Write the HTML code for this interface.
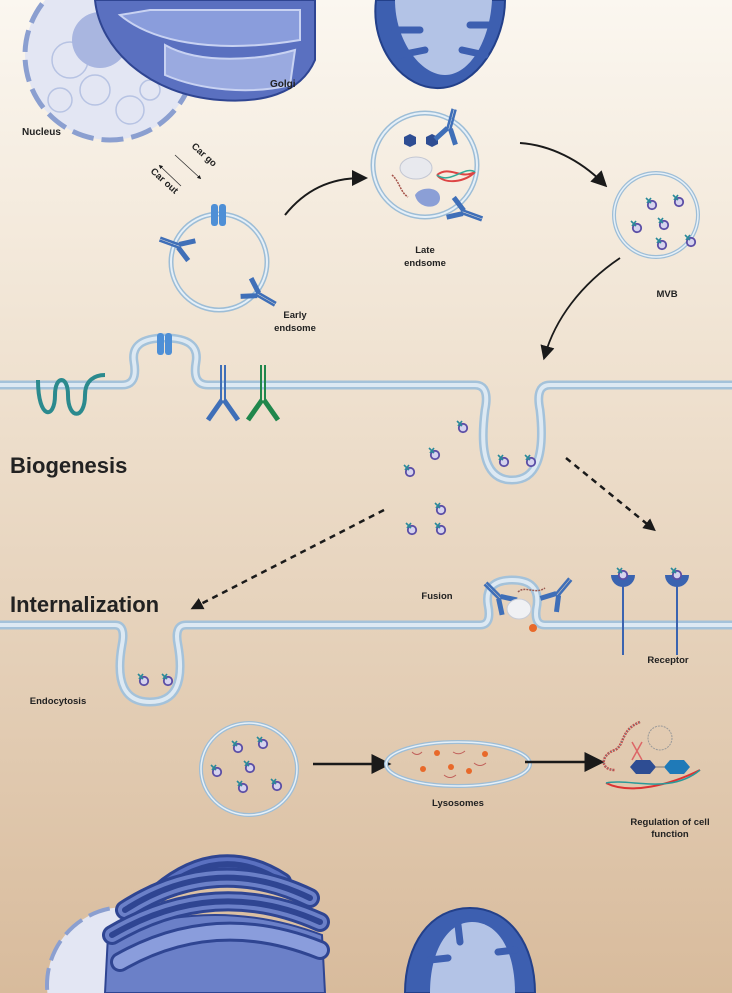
<!DOCTYPE html>
<html><head><meta charset="utf-8"><style>
html,body{margin:0;padding:0;width:732px;height:993px;overflow:hidden}
svg{display:block}
text{font-family:"Liberation Sans",sans-serif;font-weight:bold;fill:#222}
</style></head><body>
<svg width="732" height="993" viewBox="0 0 732 993" xmlns="http://www.w3.org/2000/svg">
<defs>
<linearGradient id="bg" x1="0" y1="0" x2="0" y2="1">
<stop offset="0" stop-color="#fbf7f0"/><stop offset="0.35" stop-color="#f0e3d2"/><stop offset="1" stop-color="#d8bb9c"/>
</linearGradient>
<g id="v"><circle cx="0" cy="0" r="4.2" fill="#d6d3ee" stroke="#5b4ea6" stroke-width="1.8"/><path d="M-6,-7 L-1,-2 M-5,-2 L-1,-7" stroke="#2a8a9a" stroke-width="1.6"/></g>
<marker id="ah" markerWidth="8" markerHeight="8" refX="5" refY="4" orient="auto" markerUnits="strokeWidth"><path d="M0,0 L8,4 L0,8 z" fill="#1a1a1a"/></marker>
<marker id="ah2" markerWidth="5" markerHeight="5" refX="3" refY="2.5" orient="auto" markerUnits="strokeWidth"><path d="M0,0 L5,2.5 L0,5 z" fill="#1a1a1a"/></marker>
<g id="ab"><path d="M0,0 L0,-22 M3,0 L3,-22" stroke="#3f6fb8" stroke-width="2.5"/><path d="M0,-2 L-9,12 M3,-2 L12,12" stroke="#3f6fb8" stroke-width="5"/></g>
</defs>
<rect width="732" height="993" fill="url(#bg)"/>

<!-- nucleus top -->
<circle cx="110" cy="55" r="85" fill="#e3e6f3" stroke="#8b9fd0" stroke-width="5" stroke-dasharray="22 8"/>
<g fill="none" stroke="#b7c3e3" stroke-width="1.5">
<circle cx="70" cy="60" r="18"/><circle cx="95" cy="90" r="15"/><circle cx="130" cy="110" r="14"/><circle cx="60" cy="100" r="12"/><circle cx="150" cy="90" r="10"/><circle cx="85" cy="40" r="12"/>
</g>
<circle cx="100" cy="40" r="28" fill="#a9b6e0"/>
<!-- golgi top -->
<path d="M95,0 C100,50 150,95 220,100 C260,103 300,95 315,60 L315,0 Z" fill="#5a70c0" stroke="#2f4592" stroke-width="2"/>
<path d="M120,15 C150,40 210,55 300,40 L300,10 L150,10 Z" fill="#8a9ddc" stroke="#c8d2f2" stroke-width="2"/>
<path d="M165,45 C200,65 260,60 295,50 L290,85 C250,95 200,90 165,75 Z" fill="#9aaae0" stroke="#c8d2f2" stroke-width="2"/>
<!-- mitochondrion top -->
<path d="M376,0 C370,50 405,90 440,88 C478,86 505,40 505,0 Z" fill="#3d5fb0" stroke="#23408a" stroke-width="2"/>
<path d="M395,0 C395,40 420,75 445,75 C470,75 490,40 492,0 Z" fill="#b3c3e6"/>
<g stroke="#3d5fb0" stroke-width="7" stroke-linecap="round"><path d="M395,30 L420,30"/><path d="M495,25 L470,25"/><path d="M400,55 L425,50"/><path d="M485,55 L462,50"/></g>

<text x="270" y="87" font-size="10">Golgi</text>
<text x="22" y="135" font-size="10">Nucleus</text>
<g transform="translate(191,147) rotate(42)"><text font-size="9.5">Car go</text></g>
<g transform="translate(150,172) rotate(42)"><text font-size="9.5">Car out</text></g>
<path d="M175,155 L200,178" stroke="#333" stroke-width="0.8" marker-end="url(#ah2)"/>
<path d="M181,186 L160,166" stroke="#333" stroke-width="0.8" marker-end="url(#ah2)"/>

<!-- early endosome -->
<circle cx="219" cy="262" r="48" fill="none" stroke="#9dbdd6" stroke-width="5"/>
<circle cx="219" cy="262" r="48" fill="none" stroke="#e6f0f8" stroke-width="2"/>
<rect x="211" y="204" width="7" height="22" rx="3" fill="#4e8fd6"/><rect x="219" y="204" width="7" height="22" rx="3" fill="#4e8fd6"/>
<use href="#ab" transform="translate(180,248) rotate(-70)"/>
<use href="#ab" transform="translate(257,292) rotate(120)"/>
<text x="295" y="318" font-size="9.5" text-anchor="middle">Early</text>
<text x="295" y="331" font-size="9.5" text-anchor="middle">endsome</text>
<path d="M285,215 C305,190 330,178 362,178" fill="none" stroke="#1a1a1a" stroke-width="2" marker-end="url(#ah)"/>

<!-- late endosome -->
<circle cx="425" cy="165" r="52" fill="none" stroke="#9dbdd6" stroke-width="5"/>
<circle cx="425" cy="165" r="52" fill="none" stroke="#e6f0f8" stroke-width="2"/>
<polygon points="410,147 404,144 404,137 410,134 416,137 416,144" fill="#2e4d93"/>
<polygon points="432,147 426,144 426,137 432,134 438,137 438,144" fill="#2e4d93"/>
<ellipse cx="416" cy="168" rx="16" ry="11" fill="#e8e9ee" stroke="#c3c7d3"/>
<path d="M437,175 C450,165 460,180 475,172 C465,182 445,185 437,175" fill="none" stroke="#d44" stroke-width="2"/>
<path d="M437,175 C450,185 465,165 475,172" fill="none" stroke="#3a9" stroke-width="1.5"/>
<path d="M392,175 C400,182 400,192 408,197" fill="none" stroke="#a5534a" stroke-width="1.5" stroke-dasharray="2 1"/>
<path d="M415,195 C420,186 440,186 440,198 C440,210 418,210 415,195Z" fill="#8b9fd6"/>
<use href="#ab" transform="translate(447,130) rotate(15)"/>
<use href="#ab" transform="translate(462,210) rotate(110)"/>
<text x="425" y="253" font-size="9.5" text-anchor="middle">Late</text>
<text x="425" y="266" font-size="9.5" text-anchor="middle">endsome</text>
<path d="M520,143 C550,145 580,160 603,183" fill="none" stroke="#1a1a1a" stroke-width="2" marker-end="url(#ah)"/>

<!-- MVB -->
<circle cx="656" cy="215" r="42" fill="none" stroke="#9dbdd6" stroke-width="4"/>
<circle cx="656" cy="215" r="42" fill="none" stroke="#e6f0f8" stroke-width="1.5"/>
<use href="#v" transform="translate(652,205)"/><use href="#v" transform="translate(679,202)"/><use href="#v" transform="translate(637,228)"/><use href="#v" transform="translate(664,225)"/><use href="#v" transform="translate(662,245)"/><use href="#v" transform="translate(691,242)"/>
<text x="667" y="297" font-size="9.5" text-anchor="middle">MVB</text>
<path d="M620,258 C580,285 555,320 545,355" fill="none" stroke="#1a1a1a" stroke-width="1.8" marker-end="url(#ah)"/>

<!-- top membrane -->
<g fill="none" stroke-linejoin="round">
<path d="M0,385 H122 Q138,385 134,362 Q130,338 165,338 Q200,338 196,362 Q192,385 208,385 H475 Q490,385 485,410 Q476,480 512,480 Q548,480 540,410 Q535,385 550,385 H732" stroke="#a4c2da" stroke-width="9"/>
<path d="M0,385 H122 Q138,385 134,362 Q130,338 165,338 Q200,338 196,362 Q192,385 208,385 H475 Q490,385 485,410 Q476,480 512,480 Q548,480 540,410 Q535,385 550,385 H732" stroke="#dde9f3" stroke-width="4"/>
</g>
<rect x="157" y="333" width="7" height="22" rx="3" fill="#4e8fd6"/><rect x="165" y="333" width="7" height="22" rx="3" fill="#4e8fd6"/>
<path d="M38,380 C38,420 55,420 55,395 C55,375 68,375 68,395 C68,420 85,420 85,395 C85,380 95,375 105,375" fill="none" stroke="#2b8a8e" stroke-width="4"/>
<path d="M221,365 V400 M225,365 V400" stroke="#3f6fb8" stroke-width="2"/>
<path d="M222,400 L208,420 M224,400 L238,420" stroke="#3f6fb8" stroke-width="5"/>
<path d="M261,365 V400 M265,365 V400" stroke="#20874c" stroke-width="2"/>
<path d="M262,400 L248,420 M264,400 L278,420" stroke="#20874c" stroke-width="5"/>
<text x="10" y="473" font-size="22">Biogenesis</text>
<use href="#v" transform="translate(504,462)"/><use href="#v" transform="translate(531,462)"/>
<use href="#v" transform="translate(463,428)"/><use href="#v" transform="translate(435,455)"/><use href="#v" transform="translate(410,472)"/><use href="#v" transform="translate(441,510)"/><use href="#v" transform="translate(412,530)"/>
<use href="#v" transform="translate(441,530)"/>
<path d="M566,458 L652,528" stroke="#1a1a1a" stroke-width="2.5" stroke-dasharray="6 5" marker-end="url(#ah2)"/>
<path d="M384,510 L195,607" stroke="#1a1a1a" stroke-width="2.5" stroke-dasharray="6 5" marker-end="url(#ah2)"/>

<!-- bottom membrane -->
<g fill="none" stroke-linejoin="round">
<path d="M0,625 H115 Q126,625 122,645 Q112,702 150,702 Q188,702 178,645 Q174,625 186,625 H480 Q492,625 488,605 Q484,580 512,580 Q540,580 537,605 Q533,625 545,625 H732" stroke="#a4c2da" stroke-width="9"/>
<path d="M0,625 H115 Q126,625 122,645 Q112,702 150,702 Q188,702 178,645 Q174,625 186,625 H480 Q492,625 488,605 Q484,580 512,580 Q540,580 537,605 Q533,625 545,625 H732" stroke="#dde9f3" stroke-width="4"/>
</g>
<text x="10" y="612" font-size="22">Internalization</text>
<use href="#v" transform="translate(144,681)"/><use href="#v" transform="translate(168,681)"/>
<use href="#ab" transform="translate(500,600) rotate(-45)"/>
<use href="#ab" transform="translate(555,595) rotate(40)"/>
<ellipse cx="519" cy="609" rx="12" ry="10" fill="#f0f1f4" stroke="#c8ccd6"/>
<circle cx="533" cy="628" r="4" fill="#e8692a"/>
<path d="M518,592 C525,585 535,595 545,588" fill="none" stroke="#9a5a50" stroke-width="1.5" stroke-dasharray="2 1"/>
<text x="437" y="599" font-size="9.5" text-anchor="middle">Fusion</text>
<g fill="#3a63b0">
<path d="M611,575 H635 A12,12 0 0 1 611,575Z"/><rect x="622" y="585" width="2" height="70"/>
<path d="M665,575 H689 A12,12 0 0 1 665,575Z"/><rect x="676" y="585" width="2" height="70"/>
</g>
<use href="#v" transform="translate(623,575)"/><use href="#v" transform="translate(677,575)"/>
<text x="668" y="663" font-size="9.5" text-anchor="middle">Receptor</text>
<text x="58" y="704" font-size="9.5" text-anchor="middle">Endocytosis</text>

<!-- lower row -->
<ellipse cx="249" cy="769" rx="48" ry="46" fill="none" stroke="#9dbdd6" stroke-width="4"/>
<ellipse cx="249" cy="769" rx="48" ry="46" fill="none" stroke="#e6f0f8" stroke-width="1.5"/>
<use href="#v" transform="translate(238,748)"/><use href="#v" transform="translate(263,744)"/><use href="#v" transform="translate(217,772)"/><use href="#v" transform="translate(250,768)"/><use href="#v" transform="translate(243,788)"/><use href="#v" transform="translate(277,786)"/>
<path d="M313,764 H384" stroke="#1a1a1a" stroke-width="2.5" marker-end="url(#ah)"/>
<ellipse cx="458" cy="764" rx="72" ry="22" fill="none" stroke="#9dbdd6" stroke-width="4"/>
<ellipse cx="458" cy="764" rx="72" ry="22" fill="none" stroke="#e6f0f8" stroke-width="1.5"/>
<g fill="#e8692a"><circle cx="437" cy="753" r="3"/><circle cx="485" cy="754" r="3"/><circle cx="423" cy="769" r="3"/><circle cx="451" cy="767" r="3"/><circle cx="469" cy="771" r="3"/></g>
<g fill="none" stroke="#c0605a" stroke-width="1"><path d="M412,752 q5,5 10,0"/><path d="M453,752 q6,4 12,-1"/><path d="M474,763 q6,5 12,0"/><path d="M444,775 q6,5 12,0"/></g>
<text x="458" y="806" font-size="9.5" text-anchor="middle">Lysosomes</text>
<path d="M525,762 H597" stroke="#1a1a1a" stroke-width="2.5" marker-end="url(#ah)"/>
<path d="M640,722 C620,730 625,745 615,750 C600,755 600,770 615,770" fill="none" stroke="#c44" stroke-width="2.5" stroke-dasharray="2 1"/>
<path d="M640,722 C620,730 625,745 615,750 C600,755 600,770 615,770" fill="none" stroke="#4aa" stroke-width="1" stroke-dasharray="1 2"/>
<circle cx="660" cy="738" r="12" fill="none" stroke="#999" stroke-width="1" stroke-dasharray="2 1"/>
<path d="M632,742 L642,760 M642,742 L632,760" stroke="#d66" stroke-width="1.5"/>
<polygon points="630,767 636,760 650,760 656,767 650,774 636,774" fill="#2e4d93"/>
<polygon points="664,767 670,760 684,760 690,767 684,774 670,774" fill="#1f7ab8"/>
<path d="M656,767 H664" stroke="#777"/>
<path d="M606,783 C630,795 670,785 700,770" fill="none" stroke="#d33" stroke-width="2"/>
<path d="M606,783 C630,778 670,795 700,770" fill="none" stroke="#2a9a9a" stroke-width="1.5"/>
<text x="670" y="825" font-size="9.5" text-anchor="middle">Regulation of cell</text>
<text x="670" y="837" font-size="9.5" text-anchor="middle">function</text>

<!-- bottom nucleus/golgi -->
<circle cx="125" cy="985" r="78" fill="#e3e6f3" stroke="#8b9fd0" stroke-width="4" stroke-dasharray="22 8"/>
<circle cx="150" cy="985" r="40" fill="#a9b6e0"/>
<path d="M105,993 L108,935 Q215,895 322,935 L325,993 Z" fill="#6b80c8" stroke="#2f4592" stroke-width="2"/>
<g fill="none" stroke-linecap="round">
<path d="M160,892 Q220,842 282,882" stroke="#2f4592" stroke-width="20"/>
<path d="M160,892 Q220,842 282,882" stroke="#5a70c0" stroke-width="14"/>
<path d="M160,892 Q220,842 282,882" stroke="#2f4592" stroke-width="6"/>
<path d="M125,910 Q215,852 310,898" stroke="#2f4592" stroke-width="20"/>
<path d="M125,910 Q215,852 310,898" stroke="#6b80c8" stroke-width="14"/>
<path d="M125,910 Q215,852 310,898" stroke="#2f4592" stroke-width="6"/>
<path d="M112,935 Q215,875 320,922" stroke="#2f4592" stroke-width="20"/>
<path d="M112,935 Q215,875 320,922" stroke="#6b80c8" stroke-width="14"/>
<path d="M112,935 Q215,875 320,922" stroke="#2f4592" stroke-width="6"/>
<path d="M120,962 Q215,908 320,950" stroke="#2f4592" stroke-width="20"/>
<path d="M120,962 Q215,908 320,950" stroke="#8a9ddc" stroke-width="14"/>
</g>
<!-- bottom mito -->
<path d="M405,993 C405,945 430,908 470,908 C510,908 535,945 535,993 Z" fill="#3d5fb0" stroke="#23408a" stroke-width="2"/>
<path d="M430,993 C430,950 448,922 472,922 C498,922 515,950 515,993 Z" fill="#b3c3e6"/>
<g stroke="#3d5fb0" stroke-width="7" stroke-linecap="round"><path d="M430,960 L448,958"/><path d="M515,950 L498,952"/><path d="M458,925 L460,942"/></g>
</svg>
</body></html>
